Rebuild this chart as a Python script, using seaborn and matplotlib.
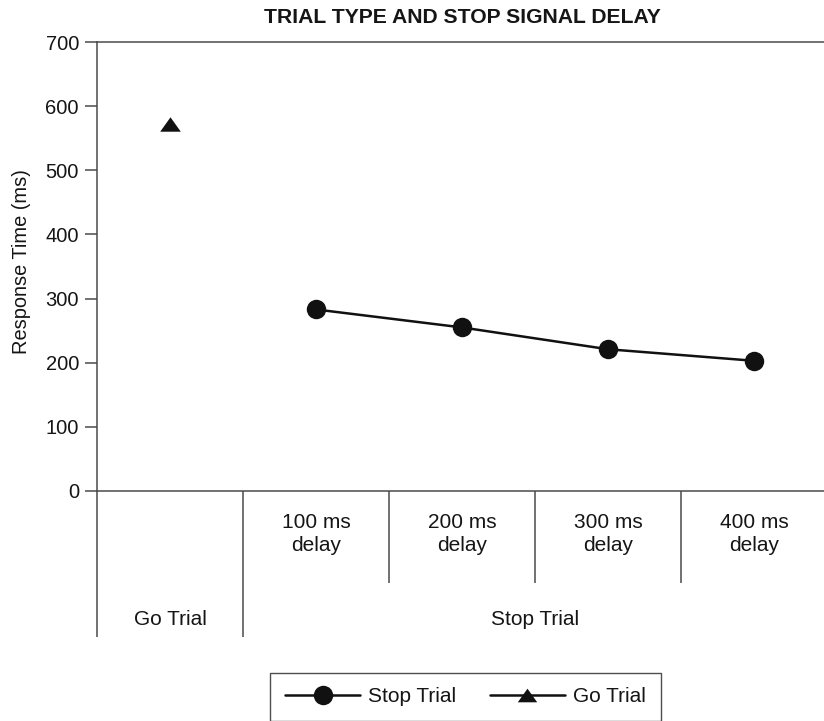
import matplotlib
matplotlib.use("Agg")
import matplotlib.pyplot as plt
from matplotlib.lines import Line2D
import seaborn as sns
import pandas as pd

sns.set_theme(style="white")
plt.rcParams['font.family'] = ['Liberation Sans', 'DejaVu Sans']

# data
categories = ["Go Trial", "100 ms\ndelay", "200 ms\ndelay", "300 ms\ndelay", "400 ms\ndelay"]
groups = ["Go Trial", "Stop Trial"]
go_rt = [572]
stop_rt = [283, 255, 221, 203]
y_ticks = [0, 100, 200, 300, 400, 500, 600, 700]

go_df = pd.DataFrame({"pos": [categories.index("Go Trial")], "rt": go_rt})
stop_df = pd.DataFrame({"pos": [categories.index(c) for c in categories[1:]], "rt": stop_rt})

fig = plt.figure(figsize=(8.24, 7.21), dpi=100)
ax = fig.add_axes([97 / 824, 230 / 721, 730 / 824, 449 / 721])

spine_col = "#4a4a4a"
txt_col = "#151515"
tri = [(-1, -0.7), (1, -0.7), (0, 0.7)]

sns.lineplot(data=stop_df, x="pos", y="rt", ax=ax, color="#111111", linewidth=1.8,
             marker="o", markersize=14, markeredgewidth=0)
sns.scatterplot(data=go_df, x="pos", y="rt", ax=ax, color="#111111", marker=tri,
                s=220, linewidth=0)

ax.set_xlim(-0.5, len(categories) - 0.5)
ax.set_ylim(0, 700)
ax.set_yticks(y_ticks)
ax.set_xticks([])
ax.set_xlabel("")
ax.set_ylabel("Response Time (ms)", fontsize=14.4, color=txt_col)
ax.yaxis.set_label_coords(-0.091, 0.51)
ax.tick_params(axis="y", left=True, length=9, width=1.1, color=spine_col,
               labelsize=14.5, labelcolor=txt_col, pad=4)

for side in ["left", "top", "bottom"]:
    ax.spines[side].set_color(spine_col)
    ax.spines[side].set_linewidth(1.1)
ax.spines["right"].set_visible(False)

ax.set_title("TRIAL TYPE AND STOP SIGNAL DELAY", fontsize=15.2, fontweight="bold",
             color=txt_col, pad=14)

# category table below the axis
trans = ax.get_xaxis_transform()
ax.vlines([-0.5, 0.5], 0, -0.325, transform=trans, color=spine_col, lw=1.1, clip_on=False)
ax.vlines([1.5, 2.5, 3.5], 0, -0.205, transform=trans, color=spine_col, lw=1.1, clip_on=False)
for i, c in enumerate(categories[1:], start=1):
    ax.text(i, -0.095, c, transform=trans, ha="center", va="center", fontsize=15,
            color=txt_col, linespacing=1.28)
ax.text(0, -0.287, groups[0], transform=trans, ha="center", va="center", fontsize=15,
        color=txt_col)
ax.text((1 + len(categories) - 1) / 2, -0.287, groups[1], transform=trans, ha="center",
        va="center", fontsize=15, color=txt_col)

handles = [
    Line2D([], [], color="#111111", lw=1.8, marker="o", markersize=14, markeredgewidth=0),
    Line2D([], [], color="#111111", lw=1.8, marker=tri, markersize=14, markeredgewidth=0),
]
leg = fig.legend(handles, ["Stop Trial", "Go Trial"], loc="center",
                 bbox_to_anchor=(465.5 / 824, 1 - 697 / 721), ncol=2, fontsize=15,
                 frameon=True, fancybox=False, edgecolor="#222222", handlelength=3.6,
                 columnspacing=1.6, handletextpad=0.4, borderpad=0.7, borderaxespad=0)
leg.get_frame().set_linewidth(1.0)
for t in leg.get_texts():
    t.set_color(txt_col)

fig.savefig("out.png", dpi=100)
